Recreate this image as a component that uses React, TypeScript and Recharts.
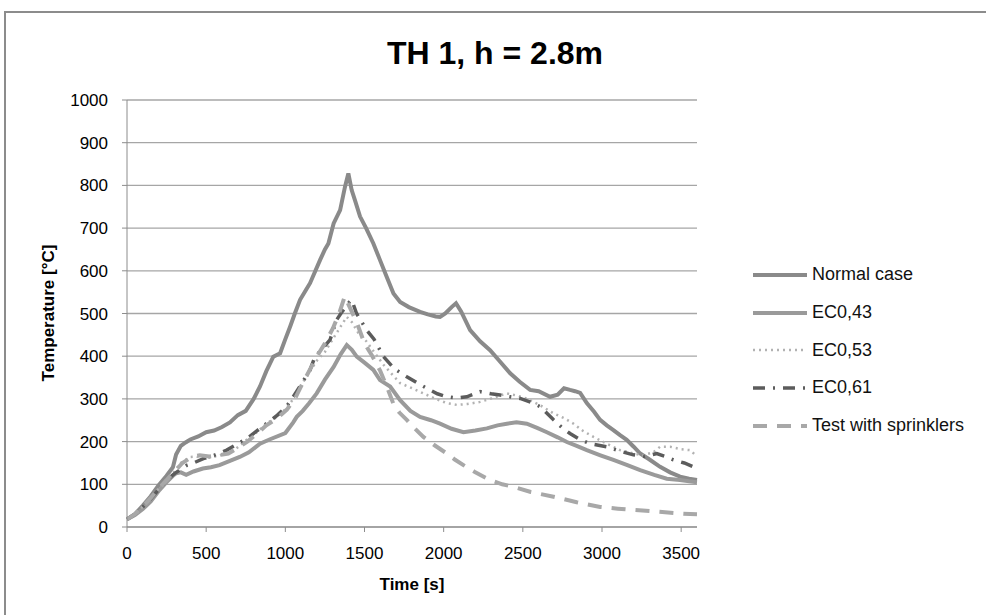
import { LineChart, Line, XAxis, YAxis, CartesianGrid, Legend, Label } from 'recharts'

// [time s, temperature °C]
const normalCase: [number, number][] = [
  [0, 18], [50, 30], [100, 50], [150, 72], [200, 98], [250, 120], [290, 140], [310, 170], [340, 190],
  [370, 198], [400, 205], [450, 212], [500, 222], [550, 226], [600, 234], [650, 245], [700, 262],
  [750, 272], [800, 300], [840, 329], [880, 365], [924, 399], [967, 407], [1000, 440], [1030, 469],
  [1060, 500], [1093, 532], [1130, 555], [1156, 571], [1190, 600], [1219, 625], [1250, 650],
  [1272, 664], [1305, 711], [1346, 742], [1377, 797], [1398, 828], [1419, 789], [1440, 765],
  [1472, 727], [1510, 700], [1556, 664], [1598, 625], [1640, 586], [1683, 547], [1725, 527],
  [1780, 515], [1851, 504], [1900, 498], [1950, 493], [1977, 492], [2010, 500], [2050, 515],
  [2078, 524], [2110, 505], [2167, 461], [2230, 435], [2293, 414], [2350, 390], [2420, 360],
  [2480, 340], [2546, 321], [2600, 318], [2672, 305], [2720, 310], [2760, 325], [2798, 321],
  [2830, 318], [2862, 314], [2904, 290], [2950, 270], [2988, 251], [3030, 238], [3072, 227],
  [3114, 215], [3156, 204], [3200, 188], [3241, 172], [3300, 158], [3367, 141], [3430, 128],
  [3493, 118], [3550, 113], [3600, 110],
]

const ec043: [number, number][] = [
  [0, 18], [50, 28], [100, 42], [150, 60], [206, 87], [250, 105], [290, 120], [311, 126], [340, 128],
  [374, 122], [420, 130], [479, 137], [530, 140], [584, 145], [650, 155], [712, 164], [770, 175],
  [840, 195], [900, 205], [1000, 220], [1050, 245], [1072, 258], [1110, 272], [1150, 290],
  [1198, 313], [1250, 345], [1305, 375], [1350, 405], [1388, 426], [1420, 415], [1451, 399],
  [1500, 385], [1556, 368], [1598, 344], [1662, 329], [1725, 297], [1790, 272], [1851, 258],
  [1920, 250], [1977, 242], [2050, 230], [2125, 222], [2200, 226], [2273, 231], [2340, 238],
  [2399, 242], [2460, 245], [2525, 242], [2590, 232], [2652, 222], [2720, 210], [2778, 199],
  [2840, 190], [2904, 180], [2990, 168], [3072, 157], [3160, 145], [3241, 133], [3330, 122],
  [3409, 113], [3493, 110], [3550, 107], [3600, 105],
]

const ec053: [number, number][] = [
  [0, 18], [50, 30], [100, 48], [150, 68], [200, 90], [250, 112], [300, 130], [340, 150], [398, 164],
  [440, 165], [482, 160], [530, 163], [584, 167], [640, 175], [691, 184], [758, 205], [820, 222],
  [880, 242], [950, 258], [1007, 278], [1050, 300], [1093, 328], [1156, 365], [1200, 390],
  [1250, 410], [1300, 440], [1350, 470], [1388, 492], [1420, 480], [1460, 455], [1514, 434],
  [1560, 410], [1620, 380], [1680, 355], [1725, 337], [1800, 325], [1872, 313], [1950, 300],
  [2020, 290], [2083, 286], [2150, 288], [2230, 293], [2310, 302], [2399, 313], [2460, 308],
  [2525, 301], [2610, 285], [2694, 266], [2760, 255], [2820, 242], [2880, 225], [2946, 211],
  [3030, 195], [3114, 180], [3200, 172], [3260, 168], [3325, 175], [3367, 188], [3430, 188],
  [3500, 182], [3557, 180], [3600, 165],
]

const ec061: [number, number][] = [
  [0, 18], [50, 30], [100, 47], [150, 66], [200, 88], [250, 110], [300, 125], [335, 134], [380, 145],
  [420, 150], [482, 160], [550, 168], [630, 180], [700, 195], [758, 207], [820, 225], [880, 242],
  [950, 262], [1007, 282], [1050, 305], [1093, 330], [1156, 368], [1188, 399], [1240, 420],
  [1282, 438], [1324, 485], [1360, 505], [1400, 525], [1419, 532], [1450, 500], [1514, 461],
  [1560, 440], [1620, 399], [1690, 370], [1767, 352], [1830, 338], [1893, 325], [1960, 312],
  [2020, 305], [2080, 302], [2146, 305], [2230, 317], [2300, 312], [2356, 309], [2420, 305],
  [2483, 301], [2550, 292], [2609, 282], [2694, 251], [2750, 232], [2798, 219], [2860, 205],
  [2925, 195], [3030, 188], [3110, 178], [3198, 169], [3270, 165], [3346, 172], [3400, 165],
  [3451, 157], [3520, 150], [3600, 137],
]

const sprinklers: [number, number][] = [
  [0, 18], [50, 30], [100, 48], [150, 68], [200, 90], [250, 110], [300, 130], [350, 150], [409, 164],
  [460, 168], [520, 165], [580, 168], [640, 172], [700, 185], [760, 200], [820, 218], [880, 238],
  [950, 255], [1010, 275], [1060, 300], [1100, 330], [1150, 365], [1200, 400], [1250, 430],
  [1300, 465], [1340, 500], [1375, 540], [1400, 520], [1450, 480], [1500, 430], [1550, 400],
  [1600, 365], [1650, 320], [1683, 288], [1720, 268], [1767, 251], [1820, 230], [1872, 211],
  [1940, 192], [2020, 172], [2070, 158], [2125, 145], [2200, 128], [2293, 110], [2370, 100],
  [2441, 94], [2550, 82], [2694, 71], [2840, 58], [2988, 47], [3100, 43], [3198, 40], [3346, 36],
  [3514, 31], [3600, 30],
]

const xTicks = [0, 500, 1000, 1500, 2000, 2500, 3000, 3500]
const yTicks = [0, 100, 200, 300, 400, 500, 600, 700, 800, 900, 1000]

const FONT = '"Liberation Sans", Arial, sans-serif'

const series = [
  { name: 'Normal case', points: normalCase, color: '#8a8a8a', width: 4, dash: undefined },
  { name: 'EC0,43', points: ec043, color: '#9a9a9a', width: 4, dash: undefined },
  { name: 'EC0,53', points: ec053, color: '#b2b2b2', width: 2.5, dash: '2 4' },
  { name: 'EC0,61', points: ec061, color: '#5c5c5c', width: 3.5, dash: '12 8 2 8' },
  { name: 'Test with sprinklers', points: sprinklers, color: '#a8a8a8', width: 4, dash: '14 10' },
]

const toRows = (pts: [number, number][]) => pts.map(([t, v]) => ({ t, v }))

function LegendBox() {
  return (
    <div style={{ fontFamily: FONT, fontSize: 18, color: '#111' }}>
      {series.map((s) => (
        <div key={s.name} style={{ display: 'flex', alignItems: 'center', height: 37.7 }}>
          <svg width={56} height={10} style={{ marginRight: 4 }}>
            <line x1={1} y1={5} x2={55} y2={5} stroke={s.color} strokeWidth={s.width}
                  strokeDasharray={s.dash} />
          </svg>
          <span>{s.name}</span>
        </div>
      ))}
    </div>
  )
}

export default function App() {
  return (
    <div style={{ position: 'absolute', left: 0, top: 0, width: 986, height: 615, overflow: 'hidden', background: '#fff' }}>
      <div style={{ position: 'absolute', left: 4, top: 11, width: 1000, height: 700, border: '2px solid #8c8c8c' }} />
      <div style={{ position: 'absolute', left: 0, top: 37, width: 990, textAlign: 'center', fontFamily: FONT,
                    fontWeight: 'bold', fontSize: 32, lineHeight: '32px', color: '#000' }}>
        TH 1, h = 2.8m
      </div>
      <div style={{ position: 'absolute', left: 0, top: 0 }}>
        <LineChart width={986} height={615} margin={{ top: 100, right: 289, bottom: 28, left: 0 }}>
          <CartesianGrid vertical={false} stroke="#a6a6a6" strokeWidth={1.3} />
          <XAxis dataKey="t" type="number" domain={[0, 3600]} ticks={xTicks} height={60}
                 tickSize={5} tickMargin={15} stroke="#8c8c8c" allowDuplicatedCategory={false}
                 tick={{ fill: '#000', fontSize: 17, fontFamily: FONT }}>
            <Label content={() => (
              <text x={412} y={590} textAnchor="middle" fontFamily={FONT} fontWeight="bold" fontSize={17} fill="#000">
                Time [s]
              </text>
            )} />
          </XAxis>
          <YAxis type="number" domain={[0, 1000]} ticks={yTicks} width={127} tickSize={5} tickMargin={14}
                 stroke="#8c8c8c" tick={{ fill: '#000', fontSize: 17, fontFamily: FONT }}>
            <Label content={() => (
              <text x={54} y={313} transform="rotate(-90 54 313)" textAnchor="middle" fontFamily={FONT}
                    fontWeight="bold" fontSize={17} fill="#000">
                Temperature [°C]
              </text>
            )} />
          </YAxis>
          <Legend layout="vertical" align="center" verticalAlign="middle" content={() => <LegendBox />}
                  wrapperStyle={{ position: 'absolute', left: 752, top: 256, width: 234 }} />
          {series.map((s) => (
            <Line key={s.name} name={s.name} data={toRows(s.points)} dataKey="v" type="linear"
                  stroke={s.color} strokeWidth={s.width} strokeDasharray={s.dash} dot={false}
                  activeDot={false} isAnimationActive={false} />
          ))}
        </LineChart>
      </div>
    </div>
  )
}
